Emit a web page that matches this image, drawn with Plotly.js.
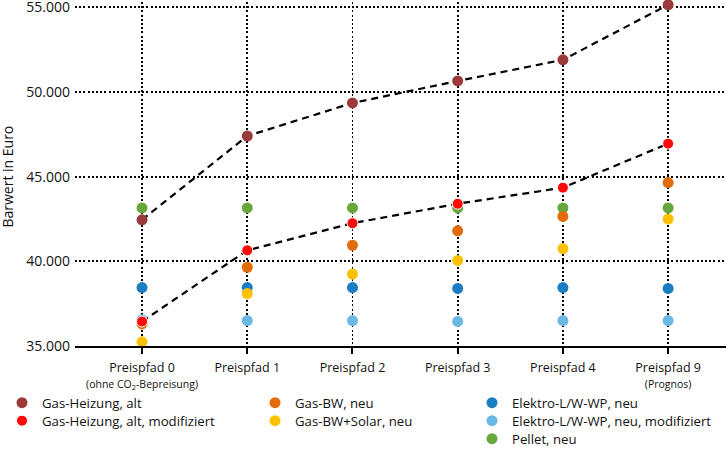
<!DOCTYPE html>
<html>
<head>
<meta charset="utf-8">
<script src="https://cdn.plot.ly/plotly-3.0.1.min.js"></script>
<style>html,body{margin:0;padding:0;background:#fff}#chart{width:726px;height:450px}</style>
</head>
<body>
<div id="chart"></div>
<script>
const categories = ["P0", "P1", "P2", "P3", "P4", "P9"];
const tickLabels = [
  "Preispfad 0<br><span style='font-size:10.5px'>(ohne CO<sub>2</sub>-Bepreisung)</span>",
  "Preispfad 1",
  "Preispfad 2",
  "Preispfad 3",
  "Preispfad 4",
  "Preispfad 9<br><span style='font-size:10.5px'>(Prognos)</span>"
];
const yTicks = [35000, 40000, 45000, 50000, 55000];
const yTitle = "Barwert in Euro";

const gasAlt        = [42450, 47400, 49350, 50650, 51900, 55150];
const gasAltMod     = [36450, 40650, 42250, 43400, 44350, 46950];
const gasBwNeu      = [36300, 39650, 40950, 41800, 42650, 44650];
const gasBwSolar    = [35250, 38100, 39250, 40050, 40750, 42500];
const elektroNeu    = [38450, 38450, 38450, 38400, 38450, 38400];
const elektroNeuMod = [36550, 36500, 36500, 36450, 36500, 36500];
const pelletNeu     = [43150, 43150, 43150, 43150, 43150, 43150];

const names = {
  gasAlt: "Gas-Heizung, alt",
  gasAltMod: "Gas-Heizung, alt, modifiziert",
  gasBwNeu: "Gas-BW, neu",
  gasBwSolar: "Gas-BW+Solar, neu",
  elektroNeu: "Elektro-L/W-WP, neu",
  elektroNeuMod: "Elektro-L/W-WP, neu, modifiziert",
  pelletNeu: "Pellet, neu"
};
const colors = {
  gasAlt: "#9b3a3a",
  gasAltMod: "#ff0a0a",
  gasBwNeu: "#e36c0a",
  gasBwSolar: "#ffc000",
  elektroNeu: "#1b7dc4",
  elektroNeuMod: "#6bb7e6",
  pelletNeu: "#66a83c"
};

const MS = 11;
function lineTrace(y) {
  return {x: categories, y: y, type: "scatter", mode: "lines", showlegend: false, hoverinfo: "skip",
    line: {color: "#000", width: 2.2, dash: "7px,5px"}};
}
function pts(key, y, legend, extra) {
  const m = Object.assign({color: colors[key], size: MS}, extra || {});
  return {x: categories, y: y, type: "scatter", mode: "markers", name: names[key], legend: legend,
    marker: m, cliponaxis: false};
}

const data = [
  lineTrace(gasAlt),
  lineTrace(gasAltMod),
  pts("pelletNeu", pelletNeu, "legend7"),
  pts("elektroNeu", elektroNeu, "legend5"),
  pts("elektroNeuMod", elektroNeuMod, "legend6"),
  pts("gasBwNeu", gasBwNeu, "legend3"),
  pts("gasBwSolar", gasBwSolar, "legend4"),
  pts("gasAltMod", gasAltMod, "legend2", {line: {color: "#fff", width: 1}}),
  pts("gasAlt", gasAlt, "legend")
];

const FF = "Open Sans, sans-serif";
function leg(xpx, rowY) {
  return {orientation: "v", xref: "container", yref: "container", xanchor: "left", yanchor: "top",
    x: xpx / 726, y: 1 - (rowY - 15.4) / 450,
    font: {family: FF, size: 13.2, color: "#111"},
    bgcolor: "rgba(0,0,0,0)", borderwidth: 0, itemwidth: 30};
}
const col1 = 2, col2 = 255, col3 = 472;
const row1 = 403, row2 = 421, row3 = 439;
const yMax = 55313;

const layout = {
  width: 726, height: 450,
  margin: {l: 75, r: 0, t: 2, b: 104, autoexpand: false},
  paper_bgcolor: "#fff", plot_bgcolor: "#fff",
  separators: ",.",
  font: {family: FF, size: 12.5, color: "#111"},
  showlegend: true,
  xaxis: {
    type: "category", range: [-0.637, 5.55],
    tickvals: categories, ticktext: tickLabels, tickangle: 0,
    showgrid: true, gridcolor: "#000", griddash: "2px,2.2px", gridwidth: 1.8,
    showline: true, linecolor: "#000", linewidth: 2,
    ticks: "outside", ticklen: 6, tickwidth: 2, tickcolor: "#000", ticklabelstandoff: 3,
    tickfont: {family: FF, size: 12.5, color: "#111"},
    zeroline: false, automargin: false
  },
  yaxis: {
    range: [35000, yMax], tickvals: yTicks, tickformat: ",d",
    showgrid: true, gridcolor: "#000", griddash: "2px,2.2px", gridwidth: 1.8,
    showline: false, zeroline: false, ticks: "", ticklabelstandoff: 4,
    ticklabeloverflow: "allow", automargin: false,
    tickfont: {family: FF, size: 14, color: "#111"}
  },
  shapes: [{
    type: "rect", layer: "between", xref: "paper", yref: "y",
    x0: 0, x1: 1, y0: yTicks[yTicks.length - 1] + 40, y1: yMax,
    fillcolor: "#fff", line: {width: 0}
  }],
  annotations: [{
    text: yTitle, textangle: -90, showarrow: false,
    xref: "paper", yref: "paper", x: (8 - 75) / 651, xanchor: "center",
    y: 1 - (176.6 - 2) / 344, yanchor: "middle",
    font: {family: FF, size: 14, color: "#111"}
  }],
  legend: leg(col1, row1),
  legend2: leg(col1, row2),
  legend3: leg(col2, row1),
  legend4: leg(col2, row2),
  legend5: leg(col3, row1),
  legend6: leg(col3, row2),
  legend7: leg(col3, row3)
};

Plotly.newPlot("chart", data, layout, {displayModeBar: false, staticPlot: true});
</script>
</body>
</html>
